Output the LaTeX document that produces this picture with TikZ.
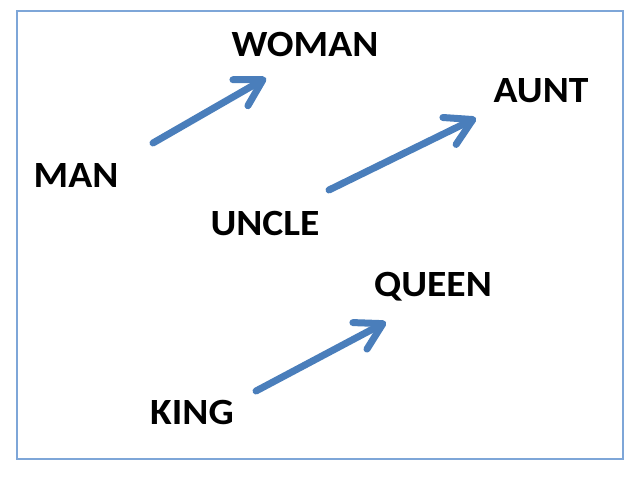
\documentclass[tikz,border=0pt]{standalone}
\usepackage{fontspec}
\setmainfont{Carlito}[FakeStretch=1.07]
\usetikzlibrary{arrows.meta}
\definecolor{arrowblue}{HTML}{4A7EBB}
\definecolor{framblue}{HTML}{7EA6D8}
\tikzset{
  word/.style={font=\bfseries\fontsize{37}{42}\selectfont, inner sep=0pt, text=black},
  vec/.style={draw=arrowblue, line width=7pt, line cap=round,
    -{Straight Barb[length=26pt, width=30pt, line cap=round, line join=round]}},
}
\begin{document}
\begin{tikzpicture}[x=1pt, y=-1pt]
  \useasboundingbox (0,0) rectangle (644,478);
  \draw[framblue, line width=1.5pt] (17,11) rectangle (623,459);
  \node[word] (woman) at (305,44) {WOMAN};
  \node[word] (aunt) at (541,91) {AUNT};
  \node[word] (man) at (76,176) {MAN};
  \node[word] (uncle) at (265,224) {UNCLE};
  \node[word] (queen) at (433,287) {QUEEN};
  \node[word] (king) at (192,412) {KING};
  \coordinate (manT) at (153,143);
  \coordinate (womanH) at (266,78);
  \coordinate (uncleT) at (329,190);
  \coordinate (auntH) at (476,118);
  \coordinate (kingT) at (256,391);
  \coordinate (queenH) at (386,322);
  \draw[vec] (manT) -- (womanH);
  \draw[vec] (uncleT) -- (auntH);
  \draw[vec] (kingT) -- (queenH);
\end{tikzpicture}
\end{document}
